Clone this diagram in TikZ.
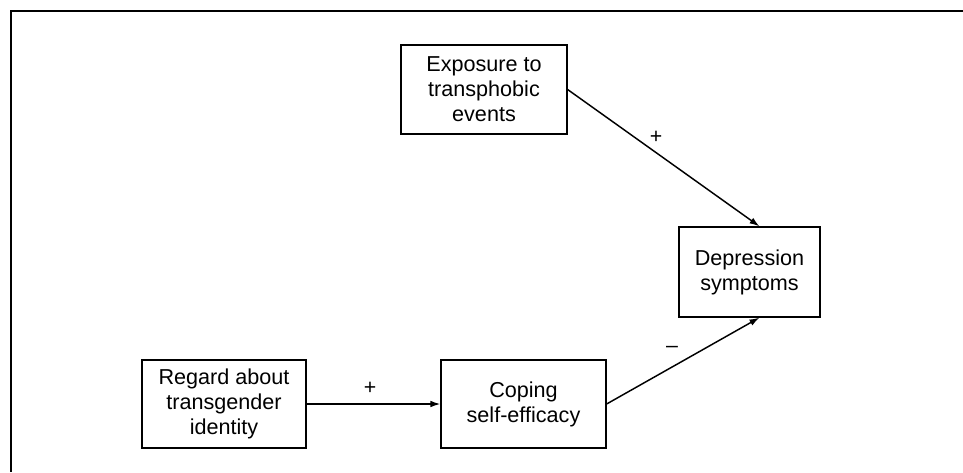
\documentclass[tikz,border=0pt]{standalone}
\usepackage{fontspec}
\setmainfont{Liberation Sans}
\usepackage{tikz}
\usetikzlibrary{arrows.meta}
\tikzset{
    factor/.style={draw, line width=0.9pt, align=center, inner sep=2pt,
        font=\fontsize{16.2}{18.75}\selectfont},
    path arrow/.style={line width=1.1pt, -{Latex[length=7.5pt,width=5pt]}},
    sign/.style={font=\fontsize{16}{18}\selectfont}
}

\begin{document}
\begin{tikzpicture}[x=0.75pt, y=-0.75pt]
    \useasboundingbox (0,0) rectangle (963,472);
    % Frame (open at right and bottom)
    \draw[line width=2.2pt] (963,11) -- (11,11) -- (11,472);

    % Boxes
    \node[factor, minimum width=124.5pt, minimum height=66.75pt] (expo) at (484,89.5) {Exposure to\\transphobic\\events};
    \node[factor, minimum width=105.75pt, minimum height=67.5pt] (depr) at (749.5,272) {Depression\\symptoms};
    \node[factor, minimum width=123pt, minimum height=66pt] (regard) at (224,404) {Regard about\\transgender\\identity};
    \node[factor, minimum width=123.75pt, minimum height=66pt] (coping) at (523.5,404) {Coping\\self-efficacy};

    % Paths
    \draw[path arrow] (expo.east) -- ([xshift=7.5pt]depr.north);
    \draw[path arrow] (regard.east) -- (coping.west);
    \draw[path arrow] (coping.east) -- ([xshift=7.5pt]depr.south);

    % Signs
    \node[sign] (signA) at (656,137) {+};
    \node[sign] (signB) at (370,388) {+};
    \node[sign] (signC) at (672,349) {–};
\end{tikzpicture}
\end{document}
